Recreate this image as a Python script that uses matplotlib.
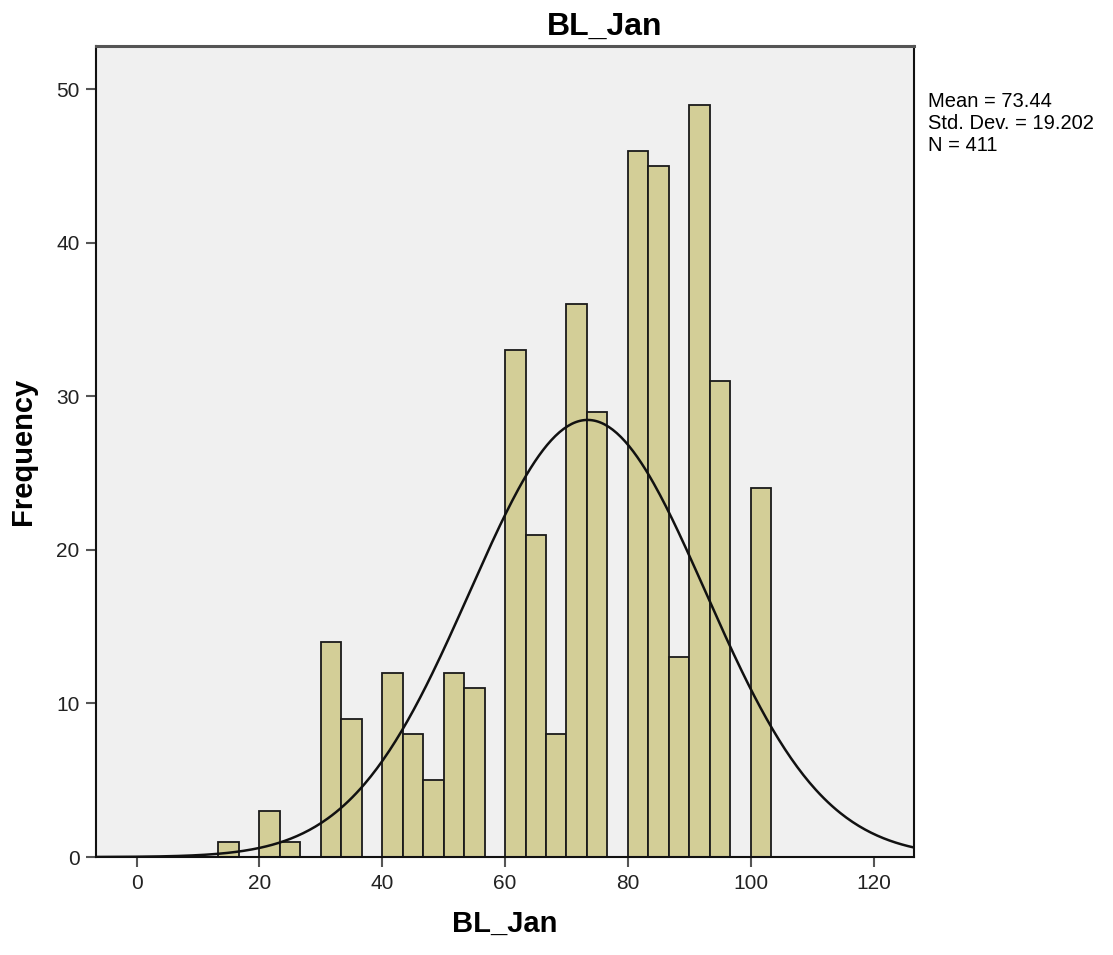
import numpy as np
import matplotlib
matplotlib.use("Agg")
import matplotlib.pyplot as plt

plt.rcParams['font.family'] = ['Liberation Sans', 'DejaVu Sans']

# histogram bins (width 10/3) and counts
bin_width = 10.0 / 3.0
bin_start = 4 * bin_width  # 13.33
counts = [1, 0, 3, 1, 0, 14, 9, 0, 12, 8, 5, 12, 11, 0,
          33, 21, 8, 36, 29, 0, 46, 45, 13, 49, 31, 0, 24]
mean_val = 73.44
sd_val = 19.202
n_val = 411

x_ticks = [0, 20, 40, 60, 80, 100, 120]
y_ticks = [0, 10, 20, 30, 40, 50]

edges = bin_start + bin_width * np.arange(len(counts))

fig = plt.figure(figsize=(11.13, 9.55), dpi=100)
ax = fig.add_axes([0.0863, 0.1026, 0.7350, 0.8490])
ax.set_facecolor('#F0F0F0')

ax.bar(edges, counts, width=bin_width, align='edge', color='#D3CE97',
       edgecolor='#1a1a1a', linewidth=1.3, zorder=2)

xs = np.linspace(-6.6, 126.6, 400)
pdf = np.exp(-0.5 * ((xs - mean_val) / sd_val) ** 2) / (sd_val * np.sqrt(2 * np.pi))
ax.plot(xs, pdf * n_val * bin_width, color='#111111', linewidth=1.8, zorder=3)

ax.set_xlim(-6.6, 126.6)
ax.set_ylim(0, 52.8)
ax.set_xticks(x_ticks)
ax.set_yticks(y_ticks)
ax.tick_params(direction='out', length=7, width=1.5, color='#555555',
               labelsize=15, labelcolor='#222222', pad=5)
for s in ax.spines.values():
    s.set_color('#111111')
    s.set_linewidth(1.5)
ax.spines['top'].set_color('#555555')
ax.spines['top'].set_linewidth(2.2)

fig.text(0.543, 0.988, 'BL_Jan', fontsize=23, fontweight='bold',
         ha='center', va='top')
ax.set_xlabel('BL_Jan', fontsize=21, fontweight='bold', labelpad=12)
ax.set_ylabel('Frequency', fontsize=21, fontweight='bold', labelpad=14)

fig.text(0.834, 0.904, 'Mean = 73.44\nStd. Dev. = 19.202\nN = 411',
         fontsize=14.5, va='top', ha='left', linespacing=1.2)

fig.savefig('out.png', dpi=100)
